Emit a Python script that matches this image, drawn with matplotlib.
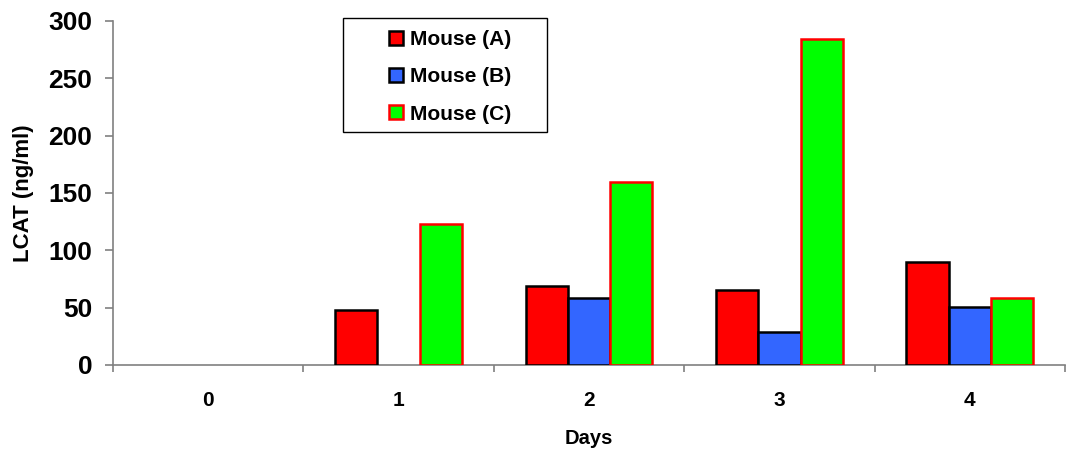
import numpy as np
import matplotlib
matplotlib.use("Agg")
import matplotlib.pyplot as plt
from matplotlib.patches import Rectangle

days = ["0", "1", "2", "3", "4"]
mouse_a = [np.nan, 48, 69, 65, 90]
mouse_b = [np.nan, np.nan, 58, 29, 51]
mouse_c = [np.nan, 123, 160, 284, 58]
series_names = ["Mouse (A)", "Mouse (B)", "Mouse (C)"]

plt.rcParams["font.family"] = ["Liberation Sans", "DejaVu Sans"]
plt.rcParams["font.weight"] = "bold"

W, H = 1067, 454
fig = plt.figure(figsize=(W / 100, H / 100), dpi=100)
ax = fig.add_axes([113 / W, 1 - 365 / H, (1065 - 113) / W, (365 - 21) / H])

x = np.arange(len(days))
w = 0.222
styles = [("#FF0000", "black"), ("#3366FF", "black"), ("#00FF00", "#FF0000")]
for i, (vals, name) in enumerate(zip([mouse_a, mouse_b, mouse_c], series_names)):
    fc, ec = styles[i]
    ax.bar(x + (i - 1) * w, vals, width=w, color=fc, edgecolor=ec,
           linewidth=1.8, label=name, zorder=3)

ax.set_xlim(-0.5, len(days) - 0.5)
ax.set_ylim(0, 300)
ax.set_yticks(np.arange(0, 301, 50))
ax.set_xticks(x)
ax.set_xticklabels(days, fontsize=15, fontweight="bold")
ax.set_xticks(np.arange(-0.5, len(days), 1.0), minor=True)
ax.tick_params(axis="x", which="major", length=0, pad=19)
ax.tick_params(axis="x", which="minor", length=5, width=1.2, color="#808080", direction="out")
ax.tick_params(axis="y", length=5.8, width=1.2, color="#808080", labelsize=19, pad=9)
for lbl in ax.get_yticklabels():
    lbl.set_fontweight("bold")

for s in ["top", "right"]:
    ax.spines[s].set_visible(False)
for s in ["left", "bottom"]:
    ax.spines[s].set_color("#808080")
    ax.spines[s].set_linewidth(1.2)

ax.set_ylabel("LCAT (ng/ml)", fontsize=16, fontweight="bold")
ax.yaxis.set_label_coords(-(113 - 23) / (1065 - 113), 0.5)
ax.yaxis.label.set_va("center")
ax.set_xlabel("Days", fontsize=14.5, fontweight="bold")
ax.xaxis.set_label_coords(0.5, -(438 - 365) / (365 - 21))
ax.xaxis.label.set_va("center")

# legend box with its entries set well inside
fig.patches.append(Rectangle((343 / W, 1 - 132 / H), (547 - 343) / W, (132 - 18) / H,
                             transform=fig.transFigure, facecolor="white",
                             edgecolor="black", linewidth=1.0, zorder=5))
leg = fig.legend(loc="upper left", bbox_to_anchor=(389 / W, 1 - 30 / H),
                 fontsize=15, frameon=False,
                 handlelength=0.66, handleheight=0.66, handletextpad=0.35,
                 labelspacing=0.88, borderpad=0.0, borderaxespad=0)
leg.set_zorder(6)
for t in leg.get_texts():
    t.set_fontweight("bold")

fig.savefig("out.png", dpi=100)
